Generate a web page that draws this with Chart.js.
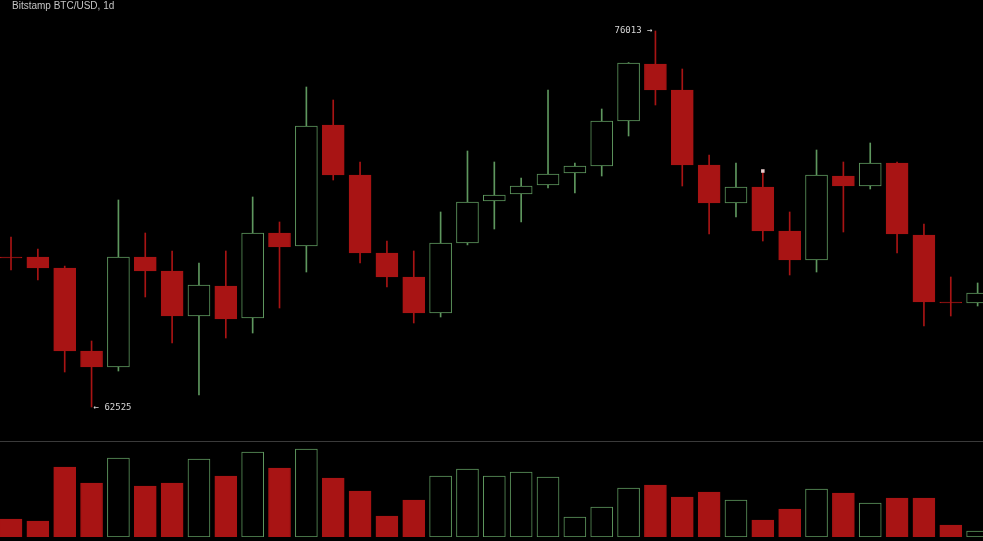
<!DOCTYPE html>
<html>
<head>
<meta charset="utf-8">
<script src="https://cdn.jsdelivr.net/npm/chart.js@4.4.1/dist/chart.umd.min.js"></script>
<style>
  html, body { margin: 0; padding: 0; background: #000; overflow: hidden; }
  #wrap { position: relative; width: 983px; height: 541px; background: #000; }
  #priceBox { position: absolute; left: 0; top: 0; width: 983px; height: 441px; }
  #volBox { position: absolute; left: 0; top: 441px; width: 983px; height: 96px; border-top: 1px solid #3a3a3a; box-sizing: border-box; }
  #title { position: absolute; left: 12px; top: 0; font: 10px "Liberation Sans", Arial, sans-serif; line-height: 12px; color: #c4c4c4; }
</style>
</head>
<body>
<div id="wrap">
  <div id="priceBox"><canvas id="price"></canvas></div>
  <div id="volBox"><canvas id="vol"></canvas></div>
  <div id="title">Bitstamp BTC/USD, 1d</div>
</div>
<script>
// daily candles, oldest first
const opens  = [67906, 67906, 67512, 64535, 63961, 67906, 67404, 65790, 66866, 65718, 68767, 68301, 72641,
                70848, 68050, 67189, 65898, 68409, 69915, 70166, 70489, 70919, 71171, 72785, 74829, 73897,
                71206, 69843, 70417, 68839, 67799, 70812, 70453, 71278, 68696, 66292, 66256];
const highs  = [68624, 68193, 67580, 64893, 69951, 68767, 68122, 67691, 68122, 70059, 69162, 74004, 73538,
                71314, 68480, 68122, 69521, 71709, 71314, 70740, 73897, 71278, 73215, 74880, 76013, 74650,
                71565, 71278, 70991, 69521, 71744, 71314, 71996, 71314, 69090, 67189, 66974];
const lows   = [67440, 67081, 63781, 62525, 63817, 66472, 64822, 62956, 65001, 65180, 66077, 67368, 70668,
                67691, 66830, 65539, 65754, 68340, 68911, 69162, 70381, 70202, 70812, 72247, 73359, 70453,
                68731, 69341, 68480, 67261, 67368, 68803, 70346, 68050, 65431, 65790, 66149];
const closes = [67871, 67512, 64535, 63961, 67906, 67404, 65790, 66902, 65682, 68767, 68265, 72605, 70848,
                68050, 67189, 65898, 68409, 69879, 70130, 70453, 70884, 71171, 72785, 74865, 73897, 71206,
                69843, 70417, 68839, 67799, 70848, 70453, 71278, 68731, 66292, 66256, 66615];
const volumes = [900, 800, 3500, 2700, 3950, 2550, 2700, 3900, 3050, 4250, 3450, 4400, 2950,
                 2300, 1050, 1850, 3050, 3400, 3050, 3250, 3000, 1000, 1500, 2450, 2600, 2000,
                 2250, 1850, 850, 1400, 2400, 2200, 1700, 1950, 1950, 600, 300];
// single marked point on the chart (index, price)
const markers = [{ i: 28, price: 70991 }];

const RED = '#a81414';
const GREEN = '#5e975e';

const up = opens.map((o, i) => closes[i] >= o);
const xMin = -0.41, xMax = 36.2;

const extremeLabels = {
  id: 'extremeLabels',
  afterDatasetsDraw(chart) {
    const { ctx, scales: { x, y } } = chart;
    const hi = highs.indexOf(Math.max(...highs));
    const lo = lows.indexOf(Math.min(...lows));
    ctx.save();
    ctx.font = '9px "DejaVu Sans Mono", monospace';
    ctx.fillStyle = '#d6d6d6';
    ctx.textBaseline = 'middle';
    ctx.textAlign = 'right';
    ctx.fillText(highs[hi] + ' \u2192', x.getPixelForValue(hi) - 3, y.getPixelForValue(highs[hi]));
    ctx.textAlign = 'left';
    ctx.fillText('\u2190 ' + lows[lo], x.getPixelForValue(lo) + 2, y.getPixelForValue(lows[lo]) + 1);
    ctx.restore();
  }
};

new Chart(document.getElementById('price'), {
  type: 'bar',
  data: {
    datasets: [
      {
        label: 'body',
        order: 0,
        data: opens.map((o, i) => ({ x: i, y: [o, closes[i]] })),
        backgroundColor: opens.map((o, i) => up[i] ? '#000' : RED),
        borderColor: opens.map((o, i) => up[i] ? GREEN : RED),
        borderWidth: 1,
        borderSkipped: false,
        barThickness: 22,
        grouped: false
      },
      {
        label: 'wick',
        order: 1,
        data: lows.map((l, i) => ({ x: i, y: [l, highs[i]] })),
        backgroundColor: opens.map((o, i) => up[i] ? GREEN : RED),
        borderWidth: 0,
        barThickness: 1,
        grouped: false
      },
      {
        type: 'scatter',
        label: 'marker',
        order: -1,
        data: markers.map(m => ({ x: m.i, y: m.price })),
        pointStyle: 'rect',
        pointRadius: 2.5,
        backgroundColor: '#e6cccc',
        borderWidth: 0
      }
    ]
  },
  options: {
    animation: false,
    responsive: true,
    maintainAspectRatio: false,
    layout: { padding: 0, autoPadding: false },
    plugins: { legend: { display: false }, tooltip: { enabled: false } },
    scales: {
      x: { type: 'linear', min: xMin, max: xMax, offset: false, display: false },
      y: { min: 61306, max: 77125, display: false }
    }
  },
  plugins: [extremeLabels]
});

new Chart(document.getElementById('vol'), {
  type: 'bar',
  data: {
    datasets: [{
      label: 'volume',
      data: volumes.map((v, i) => ({ x: i, y: v })),
      backgroundColor: volumes.map((v, i) => up[i] ? '#000' : RED),
      borderColor: volumes.map((v, i) => up[i] ? GREEN : RED),
      borderWidth: 1,
      borderSkipped: false,
      barThickness: 22
    }]
  },
  options: {
    animation: false,
    responsive: true,
    maintainAspectRatio: false,
    layout: { padding: 0, autoPadding: false },
    plugins: { legend: { display: false }, tooltip: { enabled: false } },
    scales: {
      x: { type: 'linear', min: xMin, max: xMax, offset: false, display: false },
      y: { min: 0, max: 4750, display: false }
    }
  }
});
</script>
</body>
</html>
